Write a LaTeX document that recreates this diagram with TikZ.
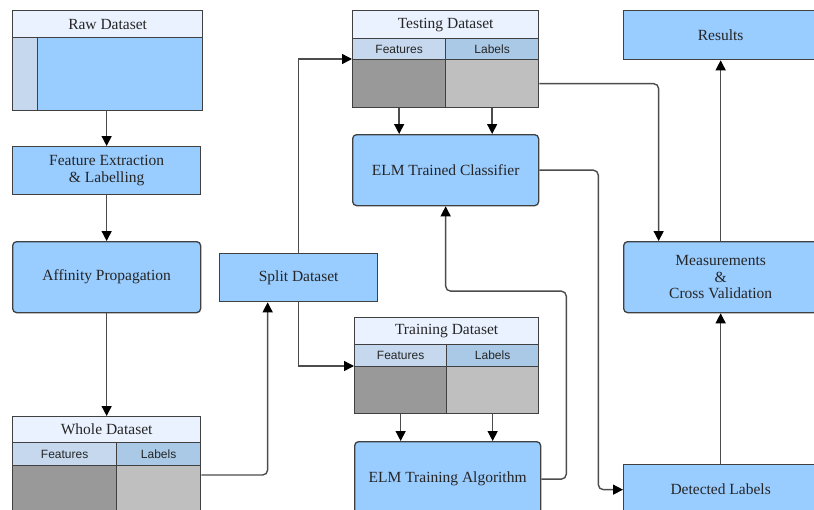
\documentclass[tikz,border=0pt]{standalone}
\usepackage{fontspec}
\setmainfont{Liberation Serif}
\newfontfamily\hdrfont{Liberation Sans}
\usetikzlibrary{arrows.meta}
\definecolor{boxblue}{HTML}{99CCFF}
\definecolor{ttlblue}{HTML}{EAF2FF}
\definecolor{hdrA}{HTML}{C5D8EE}
\definecolor{hdrB}{HTML}{A9C9E6}
\definecolor{featgray}{HTML}{999999}
\definecolor{lblgray}{HTML}{BFBFBF}

\begin{document}
\begin{tikzpicture}[x=1pt,y=-1pt,
    box/.style={draw=black!75, line width=1.3pt, fill=boxblue, anchor=north west, inner sep=0pt,
      align=center, text=black!85, font=\fontsize{15.5}{16.5}\selectfont},
    rbox/.style={box, rounded corners=4pt},
    ttl/.style={box, fill=ttlblue},
    hdr/.style={box, fill=hdrA, font=\hdrfont\fontsize{12}{14}\selectfont},
    conn/.style={draw=black!70, line width=1.4pt, rounded corners=5pt,
      -{Triangle[length=10pt,width=10pt,color=black]}}
]
\useasboundingbox (0,0) rectangle (814,509);
\clip (0,0) rectangle (814,509);

% left column
\node[ttl, minimum width=190pt, minimum height=27pt] (raw) at (12,10) {Raw Dataset};
\node[box, fill=hdrA, minimum width=25pt, minimum height=73pt] (rawside) at (12,37) {};
\node[box, minimum width=165pt, minimum height=73pt] (rawbody) at (37,37) {};
\node[box, minimum width=188pt, minimum height=48pt] (feat) at (12,146) {Feature Extraction\\ \& Labelling};
\node[rbox, minimum width=188pt, minimum height=71pt] (aff) at (12,241) {Affinity Propagation};
\node[ttl, minimum width=188pt, minimum height=26pt] (whole) at (12,416) {Whole Dataset};
\node[hdr, minimum width=104pt, minimum height=23pt] (wholeFh) at (12,442) {Features};
\node[hdr, fill=hdrB, minimum width=84pt, minimum height=23pt] (wholeLh) at (116,442) {Labels};
\node[box, fill=featgray, minimum width=104pt, minimum height=50pt] (wholeF) at (12,465) {};
\node[box, fill=lblgray, minimum width=84pt, minimum height=50pt] (wholeL) at (116,465) {};

\node[box, minimum width=158pt, minimum height=48pt] (split) at (219,253) {Split Dataset};

% middle column
\node[ttl, minimum width=186pt, minimum height=28pt] (test) at (352,10) {Testing Dataset};
\node[hdr, minimum width=93pt, minimum height=21pt] (testFh) at (352,38) {Features};
\node[hdr, fill=hdrB, minimum width=93pt, minimum height=21pt] (testLh) at (445,38) {Labels};
\node[box, fill=featgray, minimum width=93pt, minimum height=48pt] (testF) at (352,59) {};
\node[box, fill=lblgray, minimum width=93pt, minimum height=48pt] (testL) at (445,59) {};
\node[rbox, minimum width=186pt, minimum height=71pt] (elmc) at (352,134) {ELM Trained Classifier};

\node[ttl, minimum width=184pt, minimum height=27pt] (train) at (354,317) {Training Dataset};
\node[hdr, minimum width=92pt, minimum height=22pt] (trainFh) at (354,344) {Features};
\node[hdr, fill=hdrB, minimum width=92pt, minimum height=22pt] (trainLh) at (446,344) {Labels};
\node[box, fill=featgray, minimum width=92pt, minimum height=47pt] (trainF) at (354,366) {};
\node[box, fill=lblgray, minimum width=92pt, minimum height=47pt] (trainL) at (446,366) {};
\node[rbox, minimum width=186pt, minimum height=75pt] (elmt) at (354,441) {ELM Training Algorithm};

% right column
\node[box, minimum width=194pt, minimum height=49pt] (res) at (623,10) {Results};
\node[rbox, minimum width=194pt, minimum height=71pt] (meas) at (623,241) {Measurements\\ \&\\ Cross Validation};
\node[box, minimum width=194pt, minimum height=50pt] (det) at (623,464) {Detected Labels};

% connectors
\draw[conn] (feat.north |- rawbody.south) -- (feat.north);
\draw[conn] (feat.south) -- (aff.north);
\draw[conn] (aff.south) -- (whole.north);
\draw[conn] ([yshift=-10pt]wholeL.north east) -| ([xshift=-31pt]split.south);
\draw[conn, rounded corners=0pt] (split.north) |- (testF.north west);
\draw[conn, rounded corners=0pt] (split.south) |- (trainF.north west);
\draw[conn] (testF.south) -- (testF.south |- elmc.north);
\draw[conn] (testL.south) -- (testL.south |- elmc.north);
\draw[conn] (trainF.south) -- (trainF.south |- elmt.north);
\draw[conn] (trainL.south) -- (trainL.south |- elmt.north);
\draw[conn] (testL.east) -| ([xshift=-62pt]meas.north);
\draw[conn] (elmc.east) -- ++(59,0) |- (det.west);
\draw[conn] (elmt.east) -| ++(25,-188) -| (elmc.south);
\draw[conn] (det.north) -- (meas.south);
\draw[conn] (meas.north) -- (res.south);
\end{tikzpicture}
\end{document}
